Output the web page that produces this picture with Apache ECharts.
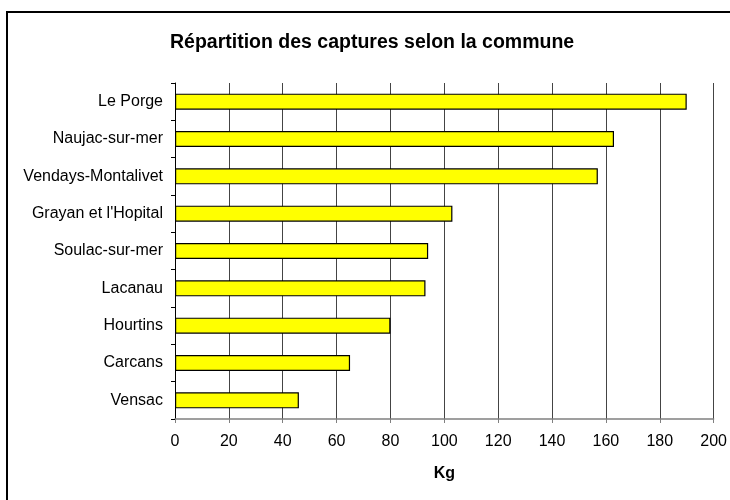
<!DOCTYPE html>
<html>
<head>
<meta charset="utf-8">
<script src="https://cdn.jsdelivr.net/npm/echarts@6/dist/echarts.min.js"></script>
<style>
  html, body { margin: 0; padding: 0; background: #fff; }
  #chart { width: 730px; height: 500px; }
</style>
</head>
<body>
<div id="chart"></div>
<script>
// communes, top to bottom
const communes = ['Le Porge', 'Naujac-sur-mer', 'Vendays-Montalivet', "Grayan et l'Hopital", 'Soulac-sur-mer', 'Lacanau', 'Hourtins', 'Carcans', 'Vensac']
// captures (kg)
const captures = [190, 163, 157, 103, 94, 93, 80, 65, 46]
const xTicks = { min: 0, max: 200, interval: 20 }

const font = 'Liberation Sans, Arial, sans-serif'
const chart = echarts.init(document.getElementById('chart'))
const option = {
  backgroundColor: '#fff',
  animation: false,
  title: {
    text: 'Répartition des captures selon la commune',
    left: 170,
    top: 33,
    padding: 0,
    textStyle: { fontFamily: font, fontSize: 19.5, fontWeight: 'bold', color: '#000' }
  },
  graphic: [{
    type: 'polyline',
    shape: { points: [[7, 500], [7, 12], [730, 12]] },
    style: { stroke: '#000', lineWidth: 2, fill: null }
  }],
  grid: { left: 175, right: 16, top: 83, bottom: 81 },
  xAxis: {
    type: 'value',
    min: xTicks.min,
    max: xTicks.max,
    interval: xTicks.interval,
    name: 'Kg',
    nameLocation: 'middle',
    nameGap: 47,
    nameTextStyle: { fontFamily: font, fontSize: 16, fontWeight: 'bold', color: '#000' },
    axisLine: { show: true, lineStyle: { color: '#808080', width: 1.5 } },
    axisTick: { show: true, length: 4, lineStyle: { color: '#808080' } },
    axisLabel: { margin: 15, fontFamily: font, fontSize: 16, color: '#000' },
    splitLine: { show: true, lineStyle: { color: '#444', width: 1 } }
  },
  yAxis: {
    type: 'category',
    inverse: true,
    data: communes,
    axisLine: { show: true, lineStyle: { color: '#000', width: 1 } },
    axisTick: { show: true, length: 4, lineStyle: { color: '#000' } },
    axisLabel: { margin: 12, fontFamily: font, fontSize: 16, color: '#000' },
    splitLine: { show: false }
  },
  series: [{
    type: 'bar',
    data: captures,
    barWidth: 16,
    itemStyle: { color: '#ffff00', borderColor: '#000', borderWidth: 1.2 }
  }]
}
chart.setOption(option)
</script>
</body>
</html>
